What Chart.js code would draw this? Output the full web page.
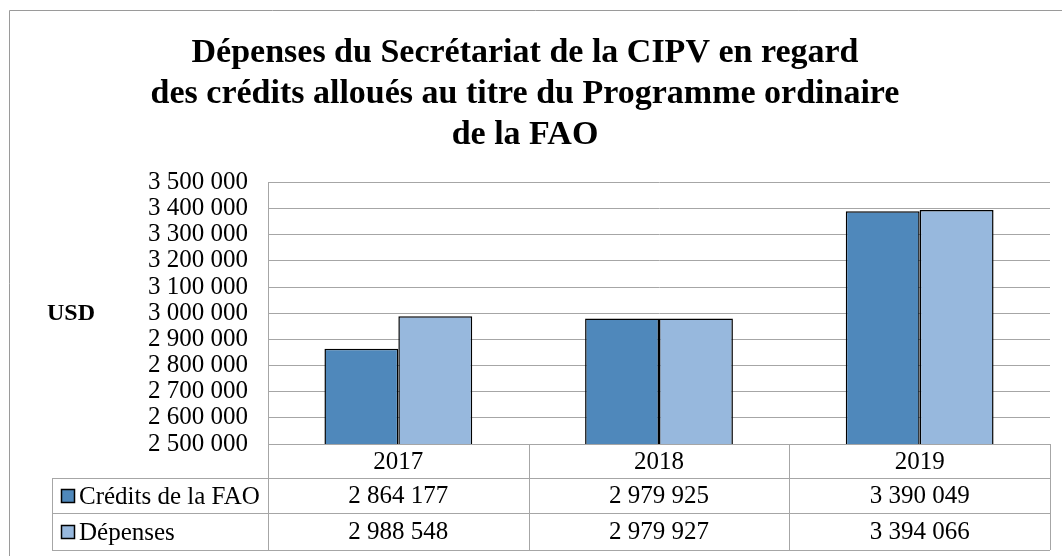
<!DOCTYPE html>
<html lang="fr">
<head>
<meta charset="utf-8">
<title>Dépenses du Secrétariat de la CIPV</title>
<script src="https://cdn.jsdelivr.net/npm/chart.js@4.4.1/dist/chart.umd.min.js"></script>
<style>
  html, body { margin: 0; padding: 0; background: #fff; }
  #wrap { position: relative; width: 1062px; height: 556px; }
</style>
</head>
<body>
<div id="wrap"><canvas id="chart" width="1062" height="556"></canvas></div>
<script>
// --- Data ---
const years = ['2017', '2018', '2019'];
const creditsFAO = [2864177, 2979925, 3390049];
const depenses = [2988548, 2979927, 3394066];
const seriesNames = ['Crédits de la FAO', 'Dépenses'];
const yMin = 2500000;
const yMax = 3500000;
const yStep = 100000;

(function () {
  'use strict';

  const SERIF = "'Liberation Serif', 'Times New Roman', serif";
  const COLORS = ['#4F88BB', '#97B8DD'];
  const GRID = '#A6A6A6';

  // space as thousands separator, e.g. 2 864 177
  function fmt(n) {
    return String(n).replace(/\B(?=(\d{3})+(?!\d))/g, ' ');
  }

  // --- Frame, "USD" label and the data table under the plot ---
  const tablePlugin = {
    id: 'dataTable',
    beforeDraw: function (chart) {
      const ctx = chart.ctx;
      ctx.save();
      ctx.strokeStyle = '#9A9A9A';
      ctx.lineWidth = 1;
      ctx.beginPath();
      ctx.moveTo(9.5, chart.height);
      ctx.lineTo(9.5, 10.5);
      ctx.lineTo(chart.width, 10.5);
      ctx.stroke();
      ctx.restore();
    },
    afterDraw: function (chart) {
      const ctx = chart.ctx;
      const area = chart.chartArea;
      const x = chart.scales.x;
      const half = (x.getPixelForValue(1) - x.getPixelForValue(0)) / 2;
      const edges = years.map(function (_, i) { return x.getPixelForValue(i) - half; });
      edges.push(x.getPixelForValue(years.length - 1) + half);

      const top = area.bottom;
      const rows = [top, top + 34, top + 69, top + 106];
      const legendLeft = 52;
      const series = [creditsFAO, depenses];

      ctx.save();
      ctx.strokeStyle = GRID;
      ctx.lineWidth = 1;
      ctx.beginPath();
      // horizontal rules
      ctx.moveTo(edges[0], Math.round(rows[0]) + 0.5);
      ctx.lineTo(edges[edges.length - 1], Math.round(rows[0]) + 0.5);
      for (let r = 1; r < rows.length; r++) {
        ctx.moveTo(legendLeft, Math.round(rows[r]) + 0.5);
        ctx.lineTo(edges[edges.length - 1], Math.round(rows[r]) + 0.5);
      }
      // vertical rules
      ctx.moveTo(legendLeft + 0.5, rows[1]);
      ctx.lineTo(legendLeft + 0.5, rows[3]);
      edges.forEach(function (ex) {
        ctx.moveTo(Math.round(ex) + 0.5, rows[0]);
        ctx.lineTo(Math.round(ex) + 0.5, rows[3]);
      });
      ctx.stroke();

      ctx.fillStyle = '#000';
      ctx.font = '25px ' + SERIF;
      ctx.textAlign = 'center';
      ctx.textBaseline = 'middle';
      years.forEach(function (yr, i) {
        const cx = x.getPixelForValue(i);
        ctx.fillText(yr, cx, (rows[0] + rows[1]) / 2 + 1);
        series.forEach(function (vals, s) {
          ctx.fillText(fmt(vals[i]), cx, (rows[s + 1] + rows[s + 2]) / 2 + 1);
        });
      });

      // legend keys
      ctx.textAlign = 'left';
      seriesNames.forEach(function (name, s) {
        const cy = Math.round((rows[s + 1] + rows[s + 2]) / 2);
        ctx.fillStyle = COLORS[s];
        ctx.fillRect(61, cy - 7, 14, 14);
        ctx.strokeStyle = '#000';
        ctx.lineWidth = 1.5;
        ctx.strokeRect(61.5, cy - 6.5, 13, 13);
        ctx.fillStyle = '#000';
        ctx.fillText(name, 79, cy + 1);
      });

      // axis title, written horizontally
      ctx.font = 'bold 24px ' + SERIF;
      ctx.textAlign = 'center';
      ctx.fillText('USD', 71, (area.top + area.bottom) / 2 + 1);
      ctx.restore();
    }
  };

  new Chart(document.getElementById('chart'), {
    type: 'bar',
    data: {
      labels: years,
      datasets: [{
        label: seriesNames[0],
        data: creditsFAO,
        backgroundColor: COLORS[0],
        borderColor: '#000',
        borderWidth: 1.5
      }, {
        label: seriesNames[1],
        data: depenses,
        backgroundColor: COLORS[1],
        borderColor: '#000',
        borderWidth: 1.5
      }]
    },
    options: {
      responsive: false,
      animation: false,
      devicePixelRatio: 1,
      categoryPercentage: 0.567,
      barPercentage: 1,
      layout: { padding: { left: 0, right: 12, top: 0, bottom: 112 } },
      plugins: {
        legend: { display: false },
        tooltip: { enabled: false },
        title: {
          display: true,
          text: ['Dépenses du Secrétariat de la CIPV en regard',
                 'des crédits alloués au titre du Programme ordinaire',
                 'de la FAO'],
          color: '#000',
          font: { family: SERIF, size: 34, weight: 'bold', lineHeight: 1.2 },
          padding: { top: 33, bottom: 27 }
        }
      },
      scales: {
        x: { display: false },
        y: {
          min: yMin,
          max: yMax,
          afterFit: function (scale) { scale.width = 268; },
          border: { display: true, color: GRID },
          grid: { color: GRID, drawTicks: false },
          ticks: {
            stepSize: yStep,
            autoSkip: false,
            padding: 20,
            color: '#000',
            font: { family: SERIF, size: 25 },
            callback: function (v) { return fmt(v); }
          }
        }
      }
    },
    plugins: [tablePlugin]
  });
})();
</script>
</body>
</html>
